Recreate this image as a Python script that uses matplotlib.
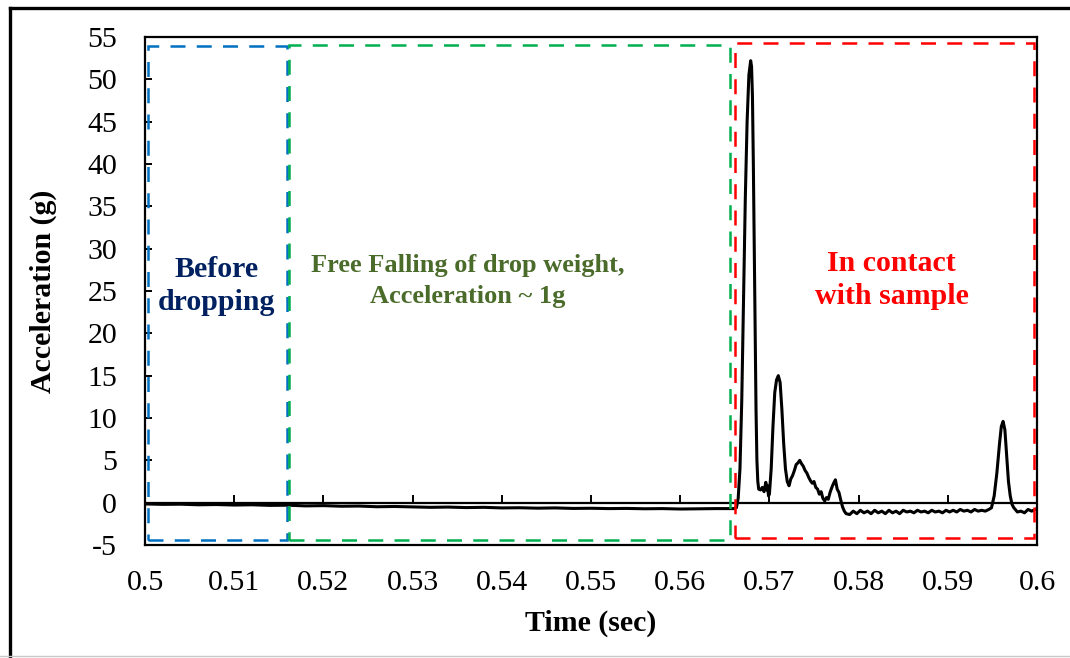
import matplotlib
matplotlib.use("Agg")
import matplotlib.pyplot as plt
from matplotlib.patches import Rectangle
from matplotlib.lines import Line2D

# ---------------- data ----------------
time_pre = [0.5000, 0.5020, 0.5040, 0.5060, 0.5080, 0.5100, 0.5120, 0.5140, 0.5160,
            0.5180, 0.5200, 0.5220, 0.5240, 0.5260, 0.5280, 0.5300, 0.5320, 0.5340,
            0.5360, 0.5380, 0.5400, 0.5420, 0.5440, 0.5460, 0.5480, 0.5500, 0.5520,
            0.5540, 0.5560, 0.5580, 0.5600, 0.5620, 0.5640, 0.5660]
accel_pre = [-0.15, -0.20, -0.18, -0.25, -0.22, -0.28, -0.25, -0.32, -0.30,
             -0.38, -0.35, -0.42, -0.40, -0.48, -0.45, -0.50, -0.55, -0.52,
             -0.58, -0.55, -0.62, -0.60, -0.65, -0.62, -0.68, -0.66, -0.70,
             -0.68, -0.72, -0.70, -0.75, -0.72, -0.70, -0.70]

time_impact = [0.5663, 0.5665, 0.5667, 0.5669, 0.5671, 0.5673, 0.5675, 0.5677, 0.5679,
               0.5680, 0.5681, 0.5682, 0.5683, 0.5684, 0.5685, 0.5686, 0.5687, 0.5688,
               0.5690, 0.5692, 0.5694, 0.5696, 0.5697, 0.5698, 0.5699, 0.5700, 0.5702,
               0.5704, 0.5706, 0.5708, 0.5710, 0.5712, 0.5714, 0.5716, 0.5718, 0.5720,
               0.5722, 0.5724, 0.5726, 0.5728, 0.5730, 0.5732, 0.5734, 0.5736, 0.5738,
               0.5740, 0.5742, 0.5744, 0.5746, 0.5748, 0.5750, 0.5752, 0.5754, 0.5756,
               0.5758, 0.5760, 0.5762, 0.5764, 0.5766, 0.5768, 0.5770, 0.5772, 0.5774,
               0.5776, 0.5778, 0.5780, 0.5782, 0.5784, 0.5786]
accel_impact = [-0.6, 0.5, 4.0, 12.0, 24.0, 36.0, 45.0, 50.5, 52.2,
                51.5, 48.0, 40.0, 30.0, 20.0, 11.0, 5.0, 2.5, 1.6,
                1.5, 1.8, 1.3, 2.4, 1.5, 2.0, 0.8, 1.0, 4.0,
                9.0, 13.0, 14.5, 15.0, 14.2, 11.0, 7.0, 4.0, 2.5,
                2.0, 2.8, 3.2, 3.8, 4.5, 4.7, 5.0, 4.6, 4.3,
                3.8, 3.5, 3.0, 2.6, 2.3, 2.5, 1.8, 1.6, 1.0,
                1.3, 0.5, 0.2, 0.6, 0.4, 1.2, 1.8, 2.3, 2.7,
                1.6, 1.2, 0.3, -0.5, -1.0, -1.3]

time_rest = [0.5790, 0.5794, 0.5798, 0.5802, 0.5806, 0.5810, 0.5814, 0.5818, 0.5822,
             0.5826, 0.5830, 0.5834, 0.5838, 0.5842, 0.5846, 0.5850, 0.5854, 0.5858,
             0.5862, 0.5866, 0.5870, 0.5874, 0.5878, 0.5882, 0.5886, 0.5890, 0.5894,
             0.5898, 0.5902, 0.5906, 0.5910, 0.5914, 0.5918, 0.5922, 0.5926, 0.5930,
             0.5934, 0.5938, 0.5942, 0.5946]
accel_rest = [-1.4, -1.0, -1.3, -0.9, -1.2, -1.0, -1.3, -0.9, -1.2, -1.0,
              -1.3, -0.9, -1.2, -1.0, -1.3, -0.9, -1.1, -1.0, -1.2, -0.9,
              -1.1, -1.0, -1.2, -0.9, -1.1, -1.0, -1.2, -0.9, -1.1, -0.9,
              -1.1, -0.8, -1.0, -0.9, -1.1, -0.8, -1.0, -0.9, -1.0, -0.8]

time_last = [0.5949, 0.5952, 0.5955, 0.5958, 0.5960, 0.5962, 0.5964, 0.5966, 0.5968,
             0.5970, 0.5972, 0.5974, 0.5978, 0.5982, 0.5986, 0.5990, 0.5994, 0.5998]
accel_last = [-0.6, 0.8, 3.5, 7.0, 9.0, 9.6, 8.6, 5.5, 2.5,
              0.8, -0.2, -0.6, -1.1, -1.0, -1.2, -0.8, -1.0, -0.8]

x_ticks = [0.5, 0.51, 0.52, 0.53, 0.54, 0.55, 0.56, 0.57, 0.58, 0.59, 0.6]
x_labels = ["0.5", "0.51", "0.52", "0.53", "0.54", "0.55", "0.56", "0.57", "0.58", "0.59", "0.6"]
y_ticks = [-5, 0, 5, 10, 15, 20, 25, 30, 35, 40, 45, 50, 55]

# ---------------- figure ----------------
plt.rcParams['font.family'] = ['Liberation Serif', 'DejaVu Serif']
plt.rcParams['axes.unicode_minus'] = False
fig = plt.figure(figsize=(10.7, 6.58), dpi=100)
ax = fig.add_axes([145/1070, 113/658, (1037-145)/1070, (545-37)/658])

t = time_pre + time_impact + time_rest + time_last
a = accel_pre + accel_impact + accel_rest + accel_last
ax.plot(t, a, color='black', lw=2.2, zorder=4, solid_joinstyle='round')

ax.set_xlim(0.5, 0.6)
ax.set_ylim(-5, 55)
ax.set_xticks(x_ticks)
ax.set_xticklabels(x_labels)
ax.set_yticks(y_ticks)
ax.tick_params(axis='x', length=0, pad=18, labelsize=21.5)
ax.tick_params(axis='y', direction='in', length=5, width=1.4, pad=20, labelsize=21.5)
for s in ax.spines.values():
    s.set_linewidth(1.6)

# horizontal axis at zero with upward tick marks
ax.axhline(0, color='black', lw=1.6, zorder=3)
ax.vlines(x_ticks[1:-1], 0, 0.95, color='black', lw=1.4, zorder=3)

ax.set_xlabel('Time (sec)', fontsize=21.5, fontweight='bold', labelpad=10)
ax.set_ylabel('Acceleration (g)', fontsize=21.5, fontweight='bold', labelpad=22)

# dashed region boxes
dash = (0, (6, 4.5))
ax.add_patch(Rectangle((0.5003, -4.4), 0.5159 - 0.5003, 53.9 + 4.4, fill=False,
                       edgecolor='#0070C0', lw=1.8, linestyle=dash, zorder=5))
ax.add_patch(Rectangle((0.5161, -4.4), 0.5656 - 0.5161, 54.0 + 4.4, fill=False,
                       edgecolor='#00B050', lw=1.8, linestyle=dash, zorder=5))
ax.add_patch(Rectangle((0.5661, -4.2), 0.5997 - 0.5661, 54.3 + 4.2, fill=False,
                       edgecolor='#FF0000', lw=1.8, linestyle=dash, zorder=6))

ax.text(0.5080, 25.6, 'Before\ndropping', color='#002060', fontsize=21.5,
        fontweight='bold', ha='center', va='center', linespacing=1.3)
ax.text(0.5362, 26.2, 'Free Falling of drop weight,\nAcceleration ~ 1g', color='#4A6B2A',
        fontsize=19, fontweight='bold', ha='center', va='center', linespacing=1.45)
ax.text(0.5837, 26.3, 'In contact\nwith sample', color='#FF0000', fontsize=21.5,
        fontweight='bold', ha='center', va='center', linespacing=1.3)

# outer frame lines
fig.add_artist(Line2D([10/1070, 10/1070], [0, 1 - 8/658], color='black', lw=2.4,
                      transform=fig.transFigure))
fig.add_artist(Line2D([10/1070, 1], [1 - 8/658, 1 - 8/658], color='black', lw=2.4,
                      transform=fig.transFigure))
fig.add_artist(Line2D([0, 1], [2/658, 2/658], color='#C8C8C8', lw=1.0,
                      transform=fig.transFigure))

fig.savefig('out.png', dpi=100)
